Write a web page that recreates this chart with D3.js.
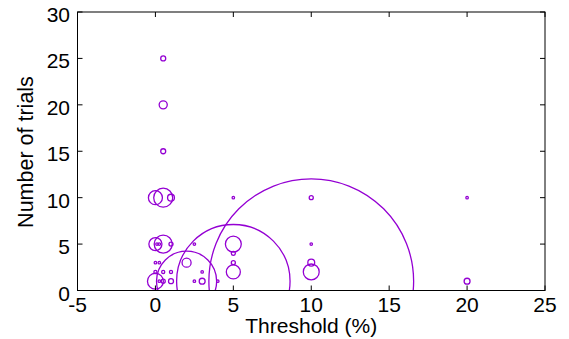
<!DOCTYPE html>
<html>
<head>
<meta charset="utf-8">
<script src="https://cdnjs.cloudflare.com/ajax/libs/d3/7.8.5/d3.min.js"></script>
<style>
  body { margin: 0; background: #fff; }
  svg text { font-family: "Liberation Sans", Arial, sans-serif; fill: #000; }
</style>
</head>
<body>
<div id="chart"></div>
<script>
// threshold (%), number of trials, circle radius (in threshold units)
var thresholds = [0.5, 0.5, 0.5, 0, 0.5, 1, 0, 0.5, 0.1, 0.25, 1, 0, 0.25, 0, 0.5, 1,
                  0, 0.25, 0.5, 1, 2, 2.5, 3, 2.5, 3, 4, 5, 5, 5, 5, 5,
                  10, 10, 10, 10, 20, 20, 2, 5, 10];
var trials     = [25, 20, 15, 10, 10, 10, 5, 5, 5, 5, 5, 3, 3, 2, 2, 2,
                  1, 1, 1, 1, 3, 5, 2, 1, 1, 1, 10, 5, 4, 3, 2,
                  10, 5, 3, 2, 10, 1, 1, 1, 1];
var radii      = [0.16, 0.26, 0.16, 0.45, 0.61, 0.22, 0.42, 0.58, 0.08, 0.08, 0.13, 0.08, 0.08, 0.1, 0.1, 0.1,
                  0.51, 0.08, 0.13, 0.16, 0.29, 0.08, 0.08, 0.08, 0.19, 0.08, 0.08, 0.51, 0.13, 0.13, 0.45,
                  0.13, 0.08, 0.22, 0.51, 0.08, 0.19, 1.93, 3.64, 6.57];

var xTicks = [-5, 0, 5, 10, 15, 20, 25];
var yTicks = [0, 5, 10, 15, 20, 25, 30];

var width = 569,
    height = 339;
var plotLeft = 77.5, plotRight = 545, plotTop = 12, plotBottom = 290.5;

var points = thresholds.map(function(t, i) {
  return { x: t, y: trials[i], r: radii[i] };
});

var xScale = d3.scaleLinear().domain([-5, 25]).range([plotLeft, plotRight]);
var yScale = d3.scaleLinear().domain([0, 30]).range([plotBottom, plotTop]);

var svg = d3.select('#chart').append('svg')
    .attr('width', width)
    .attr('height', height);

svg.append('clipPath').attr('id', 'plot')
  .append('rect')
    .attr('x', plotLeft).attr('y', plotTop)
    .attr('width', plotRight - plotLeft).attr('height', plotBottom - plotTop);

// bubbles, radius in x units like gnuplot "with circles"
svg.append('g')
    .attr('clip-path', 'url(#plot)')
  .selectAll('circle').data(points)
  .enter().append('circle')
    .attr('cx', function(d) { return xScale(d.x); })
    .attr('cy', function(d) { return yScale(d.y); })
    .attr('r', function(d) { return xScale(d.r) - xScale(0); })
    .style('fill', 'none')
    .style('stroke', '#9400d3')
    .style('stroke-width', 1.3);

// frame with inward ticks on all sides
var tickLen = 5;
var frame = svg.append('g').style('stroke', '#000').style('stroke-width', 1);

frame.selectAll('.xt').data(xTicks).enter().append('line')
    .attr('x1', function(d) { return xScale(d); })
    .attr('x2', function(d) { return xScale(d); })
    .attr('y1', plotBottom).attr('y2', plotBottom - tickLen);
frame.selectAll('.xt2').data(xTicks).enter().append('line')
    .attr('x1', function(d) { return xScale(d); })
    .attr('x2', function(d) { return xScale(d); })
    .attr('y1', plotTop).attr('y2', plotTop + tickLen);
frame.selectAll('.yt').data(yTicks).enter().append('line')
    .attr('y1', function(d) { return yScale(d); })
    .attr('y2', function(d) { return yScale(d); })
    .attr('x1', plotLeft).attr('x2', plotLeft + tickLen);
frame.selectAll('.yt2').data(yTicks).enter().append('line')
    .attr('y1', function(d) { return yScale(d); })
    .attr('y2', function(d) { return yScale(d); })
    .attr('x1', plotRight).attr('x2', plotRight - tickLen);

frame.append('rect')
    .attr('x', plotLeft).attr('y', plotTop)
    .attr('width', plotRight - plotLeft).attr('height', plotBottom - plotTop)
    .style('fill', 'none');

// tick labels
svg.selectAll('.xl').data(xTicks).enter().append('text')
    .attr('x', function(d) { return xScale(d); })
    .attr('y', 312)
    .attr('text-anchor', 'middle')
    .style('font-size', '21px')
    .text(function(d) { return d; });

svg.selectAll('.yl').data(yTicks).enter().append('text')
    .attr('x', 70)
    .attr('y', function(d) { return yScale(d) + 10; })
    .attr('text-anchor', 'end')
    .style('font-size', '21px')
    .text(function(d) { return d; });

svg.append('text')
    .attr('x', (plotLeft + plotRight) / 2)
    .attr('y', 333)
    .attr('text-anchor', 'middle')
    .style('font-size', '21px')
    .text('Threshold (%)');

svg.append('text')
    .attr('transform', 'translate(33,152) rotate(-90)')
    .attr('text-anchor', 'middle')
    .style('font-size', '21.5px')
    .text('Number of trials');
</script>
</body>
</html>
